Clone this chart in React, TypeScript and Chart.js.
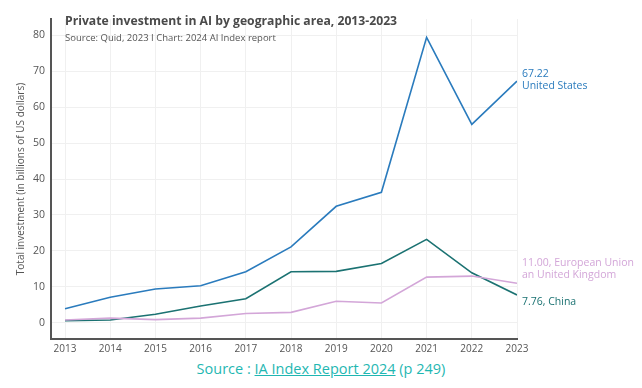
import React, { useEffect, useRef } from "react";
import { Chart, registerables } from "chart.js";

Chart.register(...registerables);

const years = [2013, 2014, 2015, 2016, 2017, 2018, 2019, 2020, 2021, 2022, 2023];
const usValues = [3.9, 7.1, 9.4, 10.3, 14.2, 21.1, 32.4, 36.3, 79.4, 55.2, 67.22];
const chinaValues = [0.6, 0.8, 2.4, 4.7, 6.7, 14.2, 14.3, 16.5, 23.2, 13.9, 7.76];
const euukValues = [0.8, 1.3, 0.9, 1.3, 2.6, 2.9, 6.0, 5.5, 12.7, 13.0, 11.0];
const yTicks = [0, 10, 20, 30, 40, 50, 60, 70, 80];

const US_COLOR = "#2a7bbd";
const CN_COLOR = "#1b7272";
const EU_COLOR = "#d3a6d8";
const FONT = "'Open Sans', sans-serif";

const overlayPlugin = {
  id: "overlay",
  afterDatasetsDraw(chart: any) {
    const ctx = chart.ctx;
    const x = chart.scales.x;
    const y = chart.scales.y;
    const area = chart.chartArea;
    ctx.save();
    ctx.textBaseline = "middle";
    ctx.textAlign = "left";
    ctx.fillStyle = "#4a4a4a";
    ctx.font = `bold 12.2px ${FONT}`;
    ctx.fillText("Private investment in AI by geographic area, 2013-2023", x.getPixelForValue(2013), 22);
    ctx.fillStyle = "#555";
    ctx.font = `9.5px ${FONT}`;
    ctx.fillText("Source: Quid, 2023 I Chart: 2024 AI Index report", x.getPixelForValue(2013), 38);

    const lx = area.right + 5;
    const last = years.length - 1;
    ctx.font = `10.5px ${FONT}`;
    ctx.fillStyle = US_COLOR;
    const uy = y.getPixelForValue(usValues[last]);
    ctx.fillText(usValues[last].toFixed(2), lx, uy - 7);
    ctx.fillText("United States", lx, uy + 5);

    ctx.fillStyle = EU_COLOR;
    const ey = y.getPixelForValue(euukValues[last]);
    ctx.fillText(euukValues[last].toFixed(2) + ", European Union", lx, ey - 20);
    ctx.fillText("an United Kingdom", lx, ey - 8);

    ctx.fillStyle = CN_COLOR;
    const cy = y.getPixelForValue(chinaValues[last]);
    ctx.fillText(chinaValues[last].toFixed(2) + ", China", lx, cy + 7);
    ctx.restore();
  },
};

export default function App() {
  const ref = useRef<HTMLCanvasElement>(null);
  useEffect(() => {
    document.body.style.margin = "0";
    const mk = (data: number[], color: string, label: string) => ({
      label,
      data: years.map((yr, i) => ({ x: yr, y: data[i] })),
      borderColor: color,
      backgroundColor: color,
      borderWidth: 1.6,
      pointRadius: 0,
      tension: 0,
    });
    const chart = new Chart(ref.current!, {
      type: "line",
      data: {
        datasets: [
          mk(euukValues, EU_COLOR, "European Union and United Kingdom"),
          mk(chinaValues, CN_COLOR, "China"),
          mk(usValues, US_COLOR, "United States"),
        ],
      },
      options: {
        animation: false,
        responsive: false,
        layout: { padding: { top: 19, right: 125, left: 15, bottom: 0 } },
        plugins: { legend: { display: false }, tooltip: { enabled: false } },
        scales: {
          x: {
            type: "linear",
            min: 2012.69,
            max: 2023,
            afterBuildTicks: (axis: any) => {
              axis.ticks = years.map((v) => ({ value: v }));
            },
            ticks: {
              color: "#555",
              font: { family: FONT, size: 10 },
              callback: (v: any) => String(v),
              padding: 4,
              maxRotation: 0,
            },
            grid: { color: "#f0f0f0", drawTicks: false, lineWidth: 1 },
            border: { color: "#555", width: 2 },
          },
          y: {
            min: -4.5,
            max: 84.5,
            afterBuildTicks: (axis: any) => {
              axis.ticks = yTicks.map((v) => ({ value: v }));
            },
            ticks: {
              color: "#555",
              font: { family: FONT, size: 10.5 },
              padding: 6,
            },
            grid: { color: "#f0f0f0", drawTicks: false, lineWidth: 1 },
            border: { color: "#555", width: 2 },
            title: {
              display: true,
              text: "Total investment (in billions of US dollars)",
              color: "#555",
              font: { family: FONT, size: 10 },
              padding: { top: 0, bottom: 0 },
            },
          },
        },
      },
      plugins: [overlayPlugin],
    });
    return () => chart.destroy();
  }, []);

  return (
    <div style={{ position: "relative", width: 642, height: 388, background: "#fff" }}>
      <canvas ref={ref} width={642} height={359} style={{ display: "block" }} />
      <div
        style={{
          position: "absolute",
          top: 359,
          left: 0,
          width: 642,
          textAlign: "center",
          fontFamily: FONT,
          fontSize: 14.5,
          color: "#1fb7b2",
        }}
      >
        Source : <span style={{ textDecoration: "underline" }}>IA Index Report 2024</span> (p 249)
      </div>
    </div>
  );
}
